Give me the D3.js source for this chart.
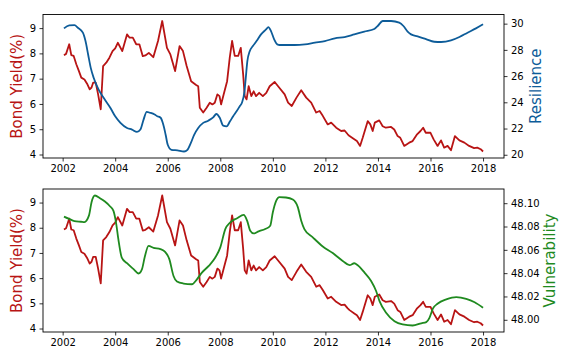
<!DOCTYPE html>
<html><head><meta charset="utf-8">
<script src="https://cdn.jsdelivr.net/npm/d3@7"></script>
<style>
html,body{margin:0;padding:0;background:#fff;}
svg{display:block;font-family:"DejaVu Sans",sans-serif;}
</style></head>
<body><svg id="c" width="576" height="360"></svg>
<script>
const bondYears = [2002.05,2002.13,2002.25,2002.33,2002.42,2002.52,2002.62,2002.71,2002.83,2002.93,2003.03,2003.1,2003.16,2003.26,2003.35,2003.45,2003.54,2003.66,2003.78,2003.9,2004.0,2004.1,2004.27,2004.45,2004.55,2004.67,2004.8,2004.92,2005.05,2005.15,2005.28,2005.45,2005.63,2005.79,2005.97,2006.1,2006.28,2006.45,2006.58,2006.72,2006.89,2007.08,2007.16,2007.22,2007.35,2007.48,2007.6,2007.7,2007.79,2007.89,2007.97,2008.03,2008.13,2008.26,2008.36,2008.45,2008.55,2008.68,2008.78,2008.87,2008.93,2009.0,2009.08,2009.18,2009.27,2009.36,2009.48,2009.62,2009.75,2009.88,2010.07,2010.2,2010.45,2010.58,2010.72,2010.9,2011.08,2011.27,2011.46,2011.65,2011.78,2011.9,2012.09,2012.22,2012.41,2012.6,2012.73,2012.85,2012.92,2013.1,2013.2,2013.32,2013.42,2013.61,2013.71,2013.8,2013.88,2014.05,2014.18,2014.3,2014.5,2014.62,2014.75,2014.85,2015.0,2015.19,2015.32,2015.49,2015.62,2015.72,2015.82,2016.0,2016.12,2016.27,2016.4,2016.52,2016.65,2016.78,2016.93,2017.1,2017.29,2017.47,2017.66,2017.78,2017.91,2018.0];
const bondValues = [7.93,7.98,8.36,7.93,7.9,7.57,7.3,7.04,6.97,6.8,6.58,6.65,6.84,6.84,6.38,5.79,7.5,7.63,7.83,8.09,8.2,8.42,8.09,8.75,8.62,8.62,8.36,8.36,7.89,7.92,8.02,7.85,8.49,9.28,8.22,7.96,7.3,8.29,8.09,7.5,6.9,6.75,6.7,5.85,5.66,5.85,6.05,5.98,6.05,6.38,6.31,5.98,6.38,6.9,7.83,8.49,7.9,7.9,8.22,7.17,6.31,6.18,6.7,6.31,6.5,6.31,6.44,6.31,6.44,6.7,6.87,6.7,6.38,6.05,5.92,6.25,6.54,6.25,6.05,5.66,5.72,5.53,5.19,5.26,5.06,4.93,4.95,4.8,4.73,4.6,4.53,4.34,4.66,5.32,5.19,4.93,5.26,5.35,5.12,5.06,5.09,4.99,4.73,4.66,4.34,4.47,4.53,4.8,4.93,5.06,4.86,4.86,4.6,4.34,4.56,4.27,4.34,4.17,4.73,4.56,4.47,4.34,4.25,4.27,4.21,4.12];

const resYears = [2002.05,2002.25,2002.45,2002.58,2002.77,2002.87,2002.97,2003.07,2003.18,2003.37,2003.56,2003.82,2004.0,2004.2,2004.45,2004.64,2004.83,2004.96,2005.08,2005.2,2005.33,2005.5,2005.6,2005.73,2005.83,2005.92,2006.0,2006.14,2006.37,2006.62,2006.75,2006.88,2007.0,2007.16,2007.35,2007.54,2007.73,2007.85,2007.98,2008.11,2008.24,2008.37,2008.49,2008.62,2008.74,2008.83,2008.92,2008.97,2009.03,2009.12,2009.24,2009.38,2009.55,2009.74,2009.83,2009.93,2010.05,2010.17,2010.26,2010.45,2010.83,2011.22,2011.6,2011.98,2012.36,2012.73,2013.1,2013.48,2013.86,2013.99,2014.18,2014.5,2014.81,2014.97,2015.13,2015.26,2015.51,2015.83,2016.14,2016.4,2016.78,2017.1,2017.41,2017.73,2018.0];
const resValues = [29.64,29.87,29.89,29.69,29.31,28.67,27.65,26.63,25.87,24.97,24.34,23.57,22.93,22.43,22.04,21.92,21.74,21.92,22.68,23.27,23.2,23.07,22.94,22.82,22.3,21.53,20.76,20.38,20.33,20.25,20.38,20.9,21.5,22.04,22.43,22.6,22.85,23.11,22.82,22.22,22.17,22.55,22.94,23.31,23.7,24.0,24.84,25.87,27.14,27.9,28.29,28.67,29.18,29.56,29.74,29.43,28.8,28.42,28.37,28.37,28.37,28.42,28.55,28.67,28.88,28.98,29.18,29.39,29.59,29.82,30.2,30.2,30.08,29.82,29.39,29.18,29.03,28.82,28.62,28.6,28.72,28.98,29.31,29.64,29.95];

const vulYears = [2002.05,2002.25,2002.45,2002.7,2002.83,2003.0,2003.1,2003.23,2003.42,2003.61,2003.8,2003.93,2004.03,2004.12,2004.25,2004.45,2004.7,2004.89,2005.02,2005.12,2005.27,2005.46,2005.72,2005.9,2006.06,2006.22,2006.35,2006.6,2006.92,2007.11,2007.3,2007.56,2007.81,2008.0,2008.19,2008.38,2008.64,2008.89,2009.02,2009.14,2009.27,2009.46,2009.71,2009.9,2010.0,2010.13,2010.25,2010.5,2010.76,2010.95,2011.08,2011.2,2011.52,2011.9,2012.28,2012.66,2012.92,2013.1,2013.23,2013.49,2013.74,2013.93,2014.06,2014.31,2014.63,2014.94,2015.32,2015.65,2015.84,2015.96,2016.09,2016.28,2016.6,2016.98,2017.36,2017.68,2018.0];
const vulValues = [48.0885,48.0865,48.0847,48.0841,48.0838,48.0893,48.1009,48.1066,48.1043,48.1014,48.0974,48.0936,48.0836,48.0692,48.0534,48.0485,48.0434,48.0397,48.0434,48.0534,48.0634,48.0617,48.0606,48.0583,48.052,48.0376,48.0328,48.0311,48.0305,48.0347,48.0405,48.0462,48.0534,48.0621,48.0778,48.0836,48.0871,48.0899,48.085,48.0764,48.0741,48.0759,48.0778,48.0807,48.0922,48.1022,48.1052,48.1049,48.1031,48.0966,48.085,48.0778,48.0707,48.0629,48.0572,48.0505,48.0468,48.0485,48.0468,48.0405,48.0333,48.0247,48.016,48.006,47.9988,47.996,47.9951,47.997,47.998,48.0017,48.0095,48.014,48.0175,48.0195,48.018,48.015,48.0103];

const xTicks = [2002,2004,2006,2008,2010,2012,2014,2016,2018];
const bondTicks = [4,5,6,7,8,9];
const resTicks = [20,22,24,26,28,30];
const vulTicks = [48.00,48.02,48.04,48.06,48.08,48.10];

const RED = "#b81414", BLUE = "#0d5c99", GREEN = "#1f8a1f";
const svg = d3.select("#c");
const L = 43, R = 504;

function pad(ext){ const m = (ext[1]-ext[0])*0.05; return [ext[0]-m, ext[1]+m]; }
const allYears = bondYears.concat(resYears, vulYears);
const x = d3.scaleLinear().domain(pad(d3.extent(allYears))).range([L, R]);

function panel(top, bottom, years2, vals2, col2, ticks2, fmt2, label2, labelX2){
  const g = svg.append("g");
  const yL = d3.scaleLinear().domain(pad(d3.extent(bondValues))).range([bottom, top]);
  const yR = d3.scaleLinear().domain(pad(d3.extent(vals2))).range([bottom, top]);
  const line1 = d3.line().x((d,i)=>x(bondYears[i])).y(d=>yL(d));
  const line2 = d3.line().x((d,i)=>x(years2[i])).y(d=>yR(d)).curve(d3.curveMonotoneX);
  g.append("path").attr("d", line1(bondValues)).attr("fill","none").attr("stroke",RED).attr("stroke-width",1.8).attr("stroke-linejoin","round");
  g.append("path").attr("d", line2(vals2)).attr("fill","none").attr("stroke",col2).attr("stroke-width",1.8).attr("stroke-linejoin","round");
  const ax = (sel)=>{ sel.selectAll(".domain").remove(); sel.selectAll(".tick line").attr("stroke","#000").attr("stroke-width",0.8); sel.selectAll("text").attr("font-size",10).attr("fill","#000").attr("font-family","DejaVu Sans"); };
  g.append("g").attr("transform",`translate(0,${bottom})`).call(d3.axisBottom(x).tickValues(xTicks).tickFormat(d3.format("d")).tickSize(3.5).tickPadding(3.5)).call(ax);
  g.append("g").attr("transform",`translate(${L},0)`).call(d3.axisLeft(yL).tickValues(bondTicks).tickFormat(d3.format("d")).tickSize(3.5).tickPadding(3.5)).call(ax);
  g.append("g").attr("transform",`translate(${R},0)`).call(d3.axisRight(yR).tickValues(ticks2).tickFormat(fmt2).tickSize(3.5).tickPadding(3.5)).call(ax);
  g.append("rect").attr("x",L).attr("y",top).attr("width",R-L).attr("height",bottom-top).attr("fill","none").attr("stroke","#000").attr("stroke-width",0.9);
  const cy = (top+bottom)/2;
  g.append("text").attr("transform",`translate(17,${cy}) rotate(-90)`).attr("text-anchor","middle").attr("dominant-baseline","central").attr("font-size",15).attr("fill",RED).text("Bond Yield(%)");
  g.append("text").attr("transform",`translate(${labelX2},${cy}) rotate(-90)`).attr("text-anchor","middle").attr("dominant-baseline","central").attr("font-size",15).attr("fill",col2).text(label2);
}
panel(14.5, 158, resYears, resValues, BLUE, resTicks, d3.format("d"), "Resilience", 536);
panel(189, 332, vulYears, vulValues, GREEN, vulTicks, d3.format(".2f"), "Vulnerability", 550);
</script></body></html>
